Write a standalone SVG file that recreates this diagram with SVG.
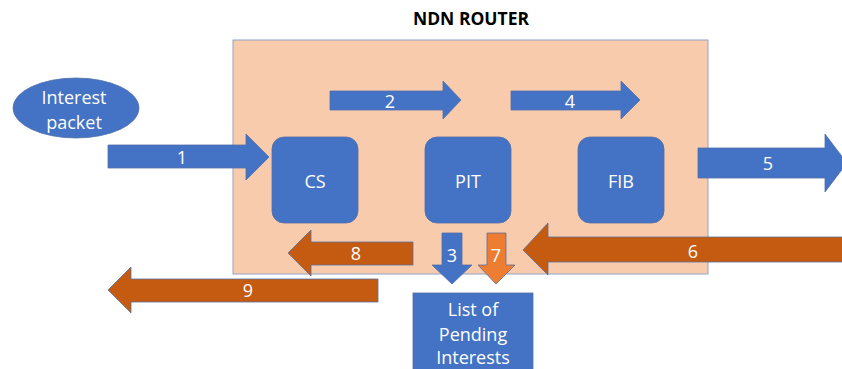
<svg xmlns="http://www.w3.org/2000/svg" width="842" height="369" viewBox="0 0 842 369">
  <style>
    .lbl { font-family: "Open Sans", "Liberation Sans", sans-serif; font-size: 18px; fill: #ffffff; text-anchor: middle; dominant-baseline: central; }
    .blue { fill: #4472C4; stroke: #5470a8; stroke-width: 0.8; }
    .dark { fill: #C55A11; stroke: #5b6f99; stroke-width: 0.8; }
    .light { fill: #ED7D31; stroke: #5b6f99; stroke-width: 0.8; }
    .title { font-family: "Open Sans", "Liberation Sans", sans-serif; font-size: 17.5px; font-weight: bold; fill: #000000; text-anchor: middle; dominant-baseline: central; }
  </style>
  <rect width="842" height="369" fill="#ffffff"/>

  <text class="title" x="471" y="18">NDN ROUTER</text>

  <!-- router boundary -->
  <g id="router">
    <rect x="233" y="40" width="475" height="234" fill="#F8CBAD" stroke="#8FA3C8" stroke-width="1"/>
  </g>

  <g id="interest-packet">
    <ellipse cx="76" cy="108" rx="63" ry="30" class="blue"/>
    <text class="lbl" x="74" y="97">Interest</text>
    <text class="lbl" x="74" y="122">packet</text>
  </g>

  <g id="cs">
    <rect x="272" y="137" width="86" height="86" rx="12" class="blue"/>
    <text class="lbl" x="315" y="181">CS</text>
  </g>
  <g id="pit">
    <rect x="425" y="137" width="86" height="86" rx="12" class="blue"/>
    <text class="lbl" x="468" y="181">PIT</text>
  </g>
  <g id="fib">
    <rect x="578" y="137" width="86" height="86" rx="12" class="blue"/>
    <text class="lbl" x="621" y="181">FIB</text>
  </g>
  <g id="pending-list">
    <rect x="413" y="293" width="120" height="90" class="blue"/>
    <text class="lbl" x="473" y="309">List of</text>
    <text class="lbl" x="473" y="334">Pending</text>
    <text class="lbl" x="473" y="357">Interests</text>
  </g>

  <g id="connectors">
    <!-- 1: packet into CS -->
    <polygon class="blue" points="108,145 246,145 246,134 269,157 246,180 246,168 108,168"/>
    <text class="lbl" x="182" y="157">1</text>
    <!-- 2: CS to PIT -->
    <polygon class="blue" points="330,91 443,91 443,81 461,100 443,119 443,110 330,110"/>
    <text class="lbl" x="390" y="101">2</text>
    <!-- 4: PIT to FIB -->
    <polygon class="blue" points="511,91 621,91 621,81 640,100 621,119 621,110 511,110"/>
    <text class="lbl" x="570" y="101">4</text>
    <!-- 5: out of router -->
    <polygon class="blue" points="698,148 825,148 825,134 847,163 825,192 825,178 698,178"/>
    <text class="lbl" x="768" y="163">5</text>
    <!-- 6: data coming back -->
    <polygon class="dark" points="845,237 548,237 548,223 523,250 548,275 548,262 845,262"/>
    <text class="lbl" x="693" y="251">6</text>
    <!-- 3: PIT to list -->
    <polygon class="blue" points="442,233 462,233 462,265 472,265 452,284 432,265 442,265"/>
    <text class="lbl" x="452" y="255">3</text>
    <!-- 7: list lookup -->
    <polygon class="light" points="487,233 506,233 506,265 515,265 496,284 478,265 487,265"/>
    <text class="lbl" x="496" y="255">7</text>
    <!-- 8: towards CS -->
    <polygon class="dark" points="413,242 311,242 311,230 288,253 311,276 311,265 413,265"/>
    <text class="lbl" x="356" y="253">8</text>
    <!-- 9: data leaves router -->
    <polygon class="dark" points="378,279 131,279 131,267 108,290 131,313 131,302 378,302"/>
    <text class="lbl" x="248" y="290">9</text>
  </g>
</svg>
